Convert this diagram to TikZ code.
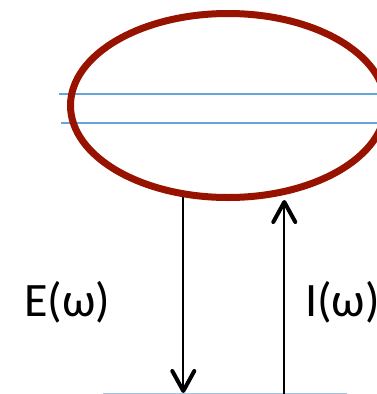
\documentclass[tikz,border=0pt]{standalone}
\usepackage{fontspec}
\setmainfont{Carlito}
\usetikzlibrary{arrows.meta,shapes.geometric}
\definecolor{mol}{RGB}{152,18,0}
\definecolor{lvl}{RGB}{100,165,220}
\definecolor{gnd}{RGB}{160,195,230}
\tikzset{
  barb/.tip={Straight Barb[length=20pt,width=22pt,line width=4pt,line cap=round,line join=round]},
  trans/.style={line width=2.3pt,-barb},
  level/.style={lvl,line width=2pt},
  lbl/.style={font=\fontsize{48}{50}\selectfont,inner sep=0pt,anchor=base west}
}
\begin{document}
\begin{tikzpicture}[x=1pt,y=-1pt]
\clip (0,0) rectangle (377,394);
\fill[white] (0,0) rectangle (377,394);
% energy levels
\coordinate (l1a) at (59,93.7);
\coordinate (l1b) at (380,93.7);
\coordinate (l2a) at (61,122.7);
\coordinate (l2b) at (380,122.7);
\draw[level] (l1a) -- (l1b);
\draw[level] (l2a) -- (l2b);
% molecule ellipse
\node[draw=mol,line width=7pt,ellipse,minimum width=315pt,minimum height=184pt,inner sep=0pt] (molecule) at (228,105.5) {};
% ground line
\coordinate (ga) at (103,393.5);
\coordinate (gb) at (347,393.5);
\draw[gnd,line width=1pt] (ga) -- (gb);
% transitions
\coordinate (dtop) at (183.3,197);
\coordinate (dbot) at (183.3,393);
\coordinate (ubot) at (284.3,395);
\coordinate (utop) at (284.3,200);
\draw[trans] (dtop) -- (dbot);
\draw[trans] (ubot) -- (utop);
% labels
\node[lbl] (E) at (24,316) {E(ω)};
\node[lbl] (I) at (305,316) {I(ω)};
\end{tikzpicture}
\end{document}
